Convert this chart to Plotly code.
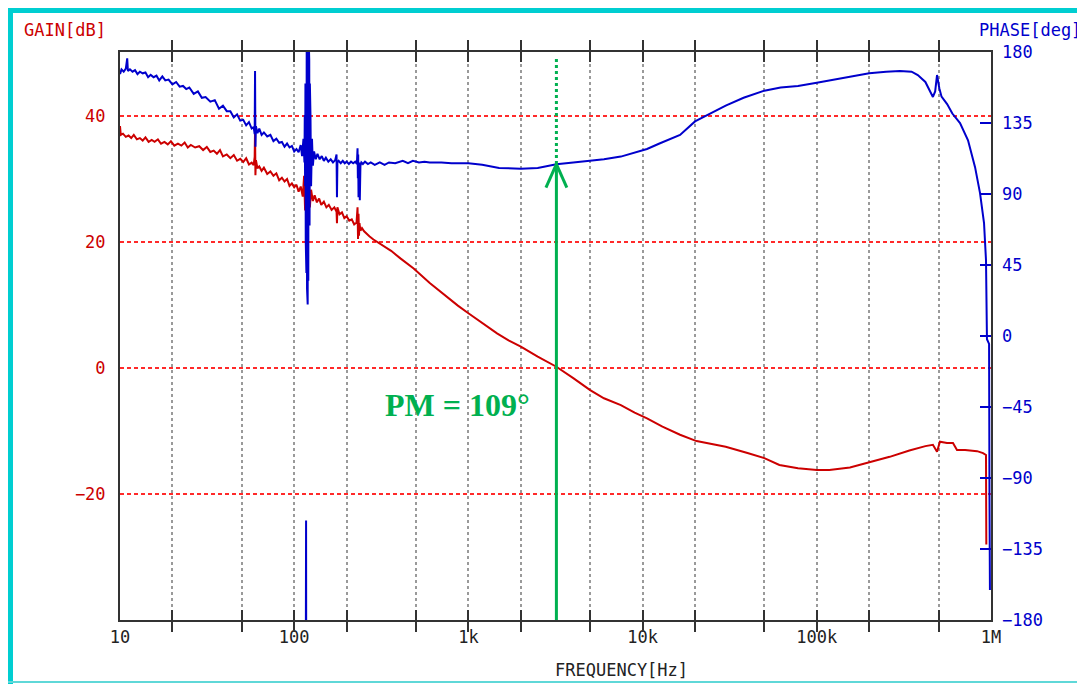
import plotly.graph_objects as go

# ---------------- data ----------------
gain_freq_hz = [10.0, 10.1, 10.4, 10.8, 11.2, 11.6, 12.0, 12.5, 13.0, 13.5, 14.0, 14.6, 15.2, 15.8,
                16.5, 17.2, 18.0, 18.8, 19.6, 20.5, 21.5, 22.5, 23.5, 24.5, 25.5, 27.0, 28.5, 30.0,
                31.5, 33.0, 34.5, 36.0, 37.5, 39.0, 41.0, 43.0, 45.0, 47.0, 49.0, 51.0, 53.0, 55.0,
                57.0, 58.5, 59.3, 59.6, 59.9, 60.3, 61.5, 63.0, 65.0, 67.0, 70.0, 73.0, 76.0, 79.0,
                82.0, 85.0, 88.0, 91.0, 94.0, 97.0, 100, 103, 106, 109, 112, 114, 115.5, 117, 118.5,
                119.5, 120.5, 121.5, 123, 125, 128, 131, 135, 139, 143, 148, 153, 158, 164, 170, 175,
                176, 177, 182, 188, 194, 200, 207, 214, 221, 228, 231, 232.5, 234, 235.5, 237, 240,
                245, 252, 260, 270, 285, 300, 310, 330, 360, 407, 485, 600, 750, 870, 1000, 1200,
                1460, 1700, 2000, 2500, 3200, 4000, 5000, 6000, 7500, 9000, 10600, 13000, 16400,
                20400, 30000, 40000, 50000, 61000, 78000, 100000, 118000, 155000, 200000, 262000,
                340000, 420000, 464000, 490000, 509000, 559000, 605000, 638000, 710000, 832000,
                900000, 936000, 940000]
gain_db = [38.4, 37.0, 37.2, 36.7, 36.9, 36.5, 37.0, 36.3, 36.5, 36.1, 36.6, 35.9, 36.2, 35.9,
           36.3, 35.6, 35.9, 35.5, 36.0, 35.3, 35.6, 35.3, 35.8, 35.0, 35.4, 35.0, 35.2, 34.6,
           35.1, 34.3, 34.5, 34.0, 34.6, 33.6, 33.9, 33.3, 33.8, 32.9, 33.2, 32.7, 33.3, 32.3,
           32.6, 32.2, 33.5, 37.8, 30.6, 33.0, 31.7, 32.0, 31.3, 31.8, 30.8, 31.2, 30.5, 30.9,
           29.8, 30.2, 29.6, 30.0, 28.9, 29.3, 28.7, 29.1, 28.0, 28.8, 27.2, 30.5, 25.0, 31.5, 23.5,
           31.0, 24.0, 29.5, 25.5, 28.3, 26.5, 27.4, 26.3, 26.9, 25.9, 26.4, 25.5, 25.9, 25.1, 25.5, 24.8,
           23.0, 25.5, 24.4, 24.7, 23.8, 24.1, 23.4, 23.6, 22.8, 23.1, 25.5, 20.5, 24.5, 21.0, 23.0, 21.8,
           22.2, 21.7, 21.3, 20.9, 20.4, 20.0, 19.8, 19.3, 18.6, 17.4, 15.8, 13.5, 11.3, 9.9, 8.7, 7.1,
           5.5, 4.4, 3.4, 1.8, 0.2, -1.6, -3.5, -4.8, -5.9, -7.1, -8.0, -9.3, -10.6,
           -11.6, -12.5, -13.5, -14.3, -15.4, -15.9, -16.2, -16.2, -15.8, -15.0, -14.1,
           -13.1, -12.4, -12.2, -13.3, -11.7, -11.9, -11.9, -13.0, -13.0, -13.2,
           -13.5, -13.8, -28.0]

phase_freq_hz = [10.0, 10.2, 10.5, 10.8, 11.0, 11.1, 11.4, 11.8, 12.2, 12.6, 13.0, 13.5, 14.0, 14.5,
                 15.0, 15.6, 16.2, 16.8, 17.5, 18.2, 19.0, 20.0, 21.0, 22.0, 23.0, 24.0, 25.0, 26.5,
                 28.0, 29.5, 31.0, 33.0, 35.0, 37.0, 39.0, 41.0, 43.0, 45.0, 47.0, 49.0, 51.0, 53.0,
                 55.0, 57.0, 58.5, 59.3, 59.6, 59.9, 60.3, 61.5, 63.0, 65.0, 67.0, 70.0, 73.0, 76.0,
                 79.0, 82.0, 85.0, 88.0, 91.0, 94.0, 97.0, 100, 103, 106, 109, 111, 113, 114.5, 115.0,
                 115.5, 116.0, 116.5, 117.0, 117.5, 118.0, 118.5, 119.0, 119.5, 120.0, 120.5, 121.0,
                 121.5, 122.0, 122.5, 123.0, 123.5, 124.0, 125, 126.5, 128, 130,
                 133, 136, 140, 144, 148, 152, 157, 162, 167, 172, 175, 176, 177, 180, 185, 190, 195,
                 200, 206, 212, 218, 224, 229, 231, 232, 233, 234, 235, 236, 237, 238, 240, 243, 248,
                 255, 265, 275, 290, 310, 330, 350, 380, 420, 450, 480, 520, 560, 600, 700, 800, 1000,
                 1200, 1500, 1800, 2000, 2500, 3200, 4000, 5000, 6000, 7500, 9000, 10600, 12500,
                 14500, 16400, 20000, 25000, 30000, 38000, 50000, 62000, 78000, 100000, 125000,
                 155000, 200000, 250000, 300000, 350000, 380000, 420000, 445000, 464000, 478000,
                 490000, 505000, 520000, 560000, 600000, 664000, 738000, 810000, 865000, 912000,
                 936000, 948000, 975000, 980000, 986000]
phase_deg = [166, 169, 167.5, 169.5, 176, 168, 169, 167.5, 168.5, 166, 167.5, 166.5, 167, 164,
             165.5, 164, 165, 162, 164.5, 162, 162.5, 159.5, 161, 158, 158.5, 156.5, 157.5, 153.5,
             155, 151, 151.5, 148.5, 149.5, 144, 146, 142.5, 142.5, 138.5, 140.5, 136.5, 137, 133.5,
             135.5, 131.5, 132.5, 128, 168, 120, 133, 128.5, 131.5, 127.5, 129, 126.5, 127.5, 123.5,
             125, 122.5, 123, 120, 122, 119.5, 120.5, 117, 118.5, 116.5, 121, 114, 125, 110, 140,
             95, 160, 60, 195, 40, 195, 30, 195, 20, 195, 35, 190,
             50, 175, 70, 160, 85, 140, 95, 125, 108, 117,
             112, 115.5, 112, 114, 111, 113, 110.5, 112, 110, 111.5, 115, 88, 110, 111, 109.5, 111, 109.5,
             110.5, 109, 110.5, 109.5, 110.5, 109, 119, 100, 115, 88, 105, 90, 110, 86, 108, 110, 109,
             110.5, 109, 110, 108.5, 110, 108.5, 110, 109.5, 111, 109.5, 111, 110, 110.5, 110, 110, 109.5, 109.5,
             108.5, 106.5, 106, 106, 106.5, 108.8, 110, 111, 112, 113.7, 116, 118.5, 122,
             125, 127.4, 136, 141.5, 146, 151, 155.5, 157.5, 158.5, 160.5, 162.5,
             164.4, 166.5, 167.5, 168, 167.5, 165.4, 161, 156, 151.5, 155,
             165.4, 157, 151.7, 147, 141, 135, 124, 107, 90.6, 71.6,
             48, -2, -5, -100, -161]

# wrapped part of the 120 Hz disturbance (appears near -180 deg)
phase_wrap_freq_hz = [116.6, 116.6, 116.8, 117.0, 117.2]
phase_wrap_deg = [-200, -153, -200, -117, -200]

crossover_hz = 3200
pm_deg = 109

x_tickvals = [10, 20, 50, 100, 200, 500, 1e3, 2e3, 5e3, 1e4, 2e4, 5e4, 1e5, 2e5, 5e5, 1e6]
x_ticktext = ["10", "", "", "100", "", "", "1k", "", "", "10k", "", "", "100k", "", "", "1M"]
gain_ticks = [-20, 0, 20, 40]
phase_ticks = [-180, -135, -90, -45, 0, 45, 90, 135, 180]

# ---------------- styling ----------------
OFF = 8                      # page body margin of the html page
W, H = 1085 - OFF, 684 - OFF  # figure size so that it fits the window
L, R, T, B = 120, 991, 52, 620  # plot area in page pixels
MONO = "DejaVu Sans Mono"
RED = "#cc0000"
BLUE = "#0000cc"
GREEN = "#00b050"
CYAN = "#00ced1"
FRAME = "#333333"


def px_x(px):
    return (px - L) / (R - L)


def px_y(py):
    return (B - py) / (B - T)


fig = go.Figure()
fig.add_trace(go.Scatter(x=gain_freq_hz, y=gain_db, mode="lines",
                         line=dict(color=RED, width=2), yaxis="y", showlegend=False))
fig.add_trace(go.Scatter(x=phase_freq_hz, y=phase_deg, mode="lines",
                         line=dict(color=BLUE, width=2), yaxis="y2", showlegend=False))
fig.add_trace(go.Scatter(x=phase_wrap_freq_hz, y=phase_wrap_deg, mode="lines",
                         line=dict(color=BLUE, width=2), yaxis="y2", showlegend=False))

fig.update_layout(
    width=W, height=H,
    margin=dict(l=L - OFF, r=(W + OFF) - R, t=T - OFF, b=(H + OFF) - B),
    paper_bgcolor="white", plot_bgcolor="white",
    font=dict(family=MONO, size=17, color="#222222"),
    xaxis=dict(type="log", range=[1, 6], tickvals=x_tickvals, ticktext=x_ticktext,
               ticks="inside", ticklen=10, tickwidth=2, tickcolor=FRAME,
               showline=True, linecolor=FRAME, linewidth=2, mirror="allticks",
               showgrid=True, gridcolor="#9a9a9a", gridwidth=1.5, griddash="3px,3px",
               tickfont=dict(family=MONO, size=17, color="#222222"),
               ticklabelstandoff=1, zeroline=False),
    yaxis=dict(range=[-40, 50.16], tickvals=gain_ticks, ticks="",
               showline=True, linecolor=FRAME, linewidth=2, mirror=True,
               showgrid=True, gridcolor="#ff2a2a", gridwidth=1.5, griddash="4px,3px",
               tickfont=dict(family=MONO, size=17, color=RED),
               ticklabelstandoff=9, zeroline=False),
    yaxis2=dict(range=[-180, 180], tickvals=phase_ticks, overlaying="y", side="right",
                ticks="inside", ticklen=11, tickwidth=2, tickcolor=BLUE,
                showline=False, showgrid=False, zeroline=False,
                tickfont=dict(family=MONO, size=17, color=BLUE),
                ticklabelstandoff=10),
)

# axis titles placed as in the instrument screenshot
fig.add_annotation(text="GAIN[dB]", xref="paper", yref="paper", x=px_x(22), y=px_y(30),
                   xanchor="left", yanchor="middle", showarrow=False,
                   font=dict(family=MONO, size=17, color=RED))
fig.add_annotation(text="PHASE[deg]", xref="paper", yref="paper", x=px_x(1083), y=px_y(30),
                   xanchor="right", yanchor="middle", showarrow=False,
                   font=dict(family=MONO, size=17, color=BLUE))
fig.add_annotation(text="FREQUENCY[Hz]", xref="paper", yref="paper", x=px_x(621), y=px_y(670),
                   xanchor="center", yanchor="middle", showarrow=False,
                   font=dict(family=MONO, size=17, color="#222222"))

# phase-margin marker (arrow up to the phase curve at the crossover frequency)
wing = 10 ** 0.06
fig.add_shape(type="line", xref="x", yref="y2", x0=crossover_hz, x1=crossover_hz,
              y0=-180, y1=pm_deg, line=dict(color=GREEN, width=3))
fig.add_shape(type="line", xref="x", yref="y2", x0=crossover_hz / wing, x1=crossover_hz,
              y0=pm_deg - 15, y1=pm_deg, line=dict(color=GREEN, width=3))
fig.add_shape(type="line", xref="x", yref="y2", x0=crossover_hz * wing, x1=crossover_hz,
              y0=pm_deg - 15, y1=pm_deg, line=dict(color=GREEN, width=3))
fig.add_shape(type="line", xref="x", yref="y2", x0=crossover_hz, x1=crossover_hz,
              y0=pm_deg, y1=176, line=dict(color=GREEN, width=3, dash="dot"))
fig.add_annotation(text=f"<b>PM = {pm_deg}°</b>", xref="paper", yref="paper",
                   x=px_x(457), y=px_y(405), xanchor="center", yanchor="middle",
                   showarrow=False, font=dict(family="Liberation Serif", size=32, color=GREEN))

# cyan frame of the screenshot
fig.add_shape(type="rect", xref="paper", yref="paper", x0=px_x(8), x1=px_x(1085),
              y0=px_y(13), y1=px_y(8), fillcolor=CYAN, line=dict(width=0), layer="above")
fig.add_shape(type="rect", xref="paper", yref="paper", x0=px_x(8), x1=px_x(13),
              y0=px_y(684), y1=px_y(8), fillcolor=CYAN, line=dict(width=0), layer="above")
fig.add_shape(type="rect", xref="paper", yref="paper", x0=px_x(8), x1=px_x(1085),
              y0=px_y(683), y1=px_y(681), fillcolor="#5fd8d8", line=dict(width=0), layer="above")

fig.write_html("out.html")
